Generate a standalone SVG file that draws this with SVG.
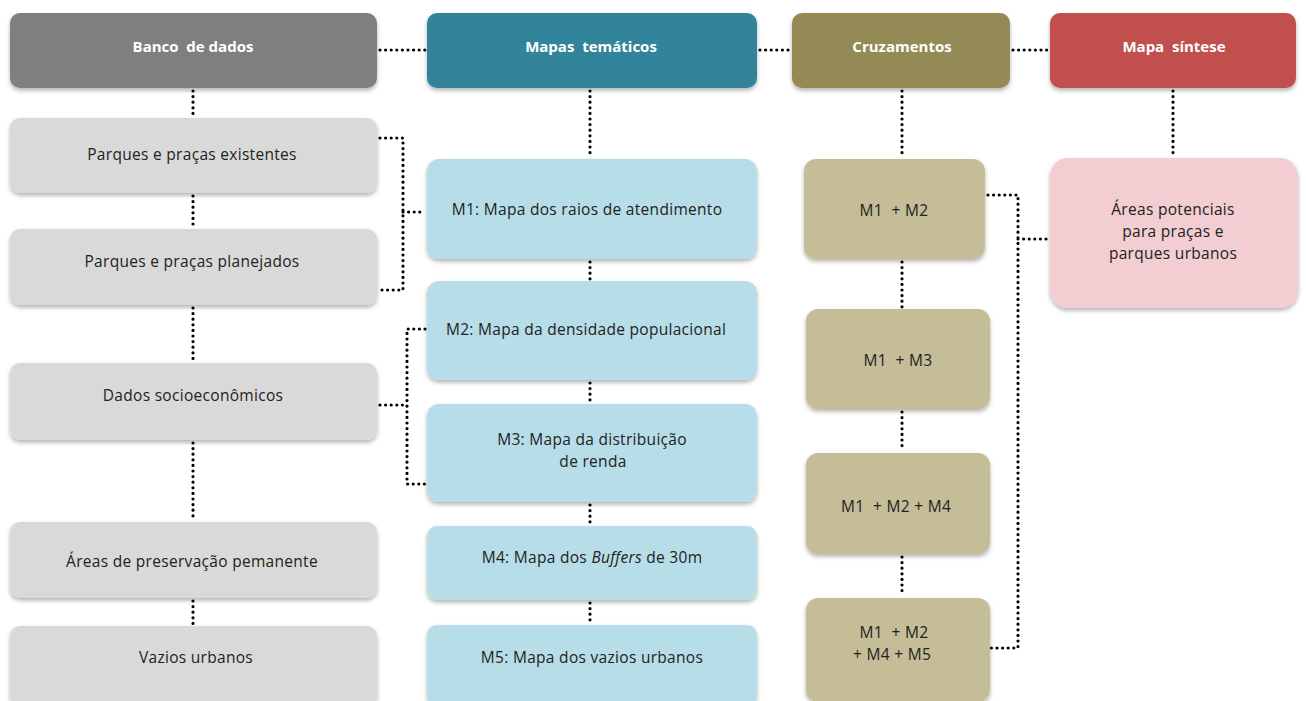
<svg xmlns="http://www.w3.org/2000/svg" width="1306" height="701" viewBox="0 0 1306 701">
<defs>
<filter id="sh" x="-10%" y="-10%" width="120%" height="130%">
<feDropShadow dx="0" dy="2.5" stdDeviation="2" flood-color="#000" flood-opacity="0.3"/>
</filter>
<style>
rect{filter:url(#sh)}
text{white-space:pre}
.hd text{font-family:"Open Sans","Liberation Sans",sans-serif;font-size:15px;font-weight:bold;fill:#fff;text-anchor:middle}
.nd text{font-family:"Open Sans","Liberation Sans",sans-serif;font-size:15.5px;letter-spacing:0.3px;fill:#222;text-anchor:middle}
.g{fill:#d9d9d9}
.b{fill:#b7dde8}
.o{fill:#c4bd97}
.p{fill:#f2cdd1}
.c path{fill:none;stroke:#000;stroke-width:3.2;stroke-linecap:round;stroke-dasharray:0 5.6}
</style>
</defs>
<rect width="1306" height="701" fill="#fff" style="filter:none"/>
<g class="c" id="connectors">
<path d="M380 50H425"/>
<path d="M760 50H790"/>
<path d="M1013 50H1048"/>
<path d="M193 91V116M193 196V227M193 308V361M193 443V520M193 601V624"/>
<path d="M590 91V157M590 262V279M590 383V402M590 505V524M590 603V623"/>
<path d="M902 91V157M902 262V307M902 412V451M902 557V596"/>
<path d="M1173 91V156"/>
<path d="M380 138H403V290H380M403 212H425"/>
<path d="M425 329H407V484H425M380 405H407"/>
<path d="M988 195H1018V648H991M1018 239H1048"/>
</g>
<g class="hd" id="banco"><rect x="10" y="13" width="367" height="75" rx="10" fill="#7f7f7f"/><text x="193" y="52">Banco  de dados</text></g>
<g class="hd" id="mapas"><rect x="427" y="13" width="330" height="75" rx="10" fill="#31849b"/><text x="591" y="52">Mapas  temáticos</text></g>
<g class="hd" id="cruz"><rect x="792" y="13" width="218" height="75" rx="10" fill="#948a54"/><text x="902" y="52">Cruzamentos</text></g>
<g class="hd" id="sintese"><rect x="1050" y="13" width="246" height="75" rx="10" fill="#c0504d"/><text x="1174" y="52">Mapa  síntese</text></g>
<g class="nd" id="pexist"><rect class="g" x="10" y="118" width="367" height="75" rx="10"/><text x="192" y="160">Parques e praças existentes</text></g>
<g class="nd" id="pplan"><rect class="g" x="10" y="229" width="367" height="76" rx="10"/><text x="192" y="267">Parques e praças planejados</text></g>
<g class="nd" id="dados"><rect class="g" x="10" y="363" width="367" height="77" rx="10"/><text x="193" y="401">Dados socioeconômicos</text></g>
<g class="nd" id="app"><rect class="g" x="10" y="522" width="367" height="76" rx="10"/><text x="192" y="567">Áreas de preservação pemanente</text></g>
<g class="nd" id="vazios"><rect class="g" x="10" y="626" width="367" height="80" rx="10"/><text x="196" y="663">Vazios urbanos</text></g>
<g class="nd" id="m1"><rect class="b" x="427" y="159" width="330" height="100" rx="12"/><text x="587" y="215">M1: Mapa dos raios de atendimento</text></g>
<g class="nd" id="m2"><rect class="b" x="427" y="281" width="330" height="99" rx="12"/><text x="586" y="335">M2: Mapa da densidade populacional</text></g>
<g class="nd" id="m3"><rect class="b" x="427" y="404" width="330" height="98" rx="12"/><text x="592" y="445">M3: Mapa da distribuição</text><text x="593" y="467">de renda</text></g>
<g class="nd" id="m4"><rect class="b" x="427" y="526" width="330" height="74" rx="10"/><text x="592" y="563">M4: Mapa dos <tspan font-style="italic">Buffers</tspan> de 30m</text></g>
<g class="nd" id="m5"><rect class="b" x="427" y="625" width="330" height="80" rx="10"/><text x="592" y="663">M5: Mapa dos vazios urbanos</text></g>
<g class="nd" id="c12"><rect class="o" x="804" y="159" width="181" height="100" rx="12"/><text x="894" y="216">M1  + M2</text></g>
<g class="nd" id="c13"><rect class="o" x="806" y="309" width="184" height="100" rx="12"/><text x="898" y="366">M1  + M3</text></g>
<g class="nd" id="c124"><rect class="o" x="806" y="453" width="184" height="101" rx="12"/><text x="896" y="512">M1  + M2 + M4</text></g>
<g class="nd" id="c1245"><rect class="o" x="806" y="598" width="184" height="104" rx="12"/><text x="894" y="638">M1  + M2</text><text x="892" y="660">+ M4 + M5</text></g>
<g class="nd" id="areas"><rect class="p" x="1050" y="158" width="248" height="150" rx="18"/><text x="1173" y="215">Áreas potenciais</text><text x="1173" y="237">para praças e</text><text x="1173" y="259">parques urbanos</text></g>
</svg>
